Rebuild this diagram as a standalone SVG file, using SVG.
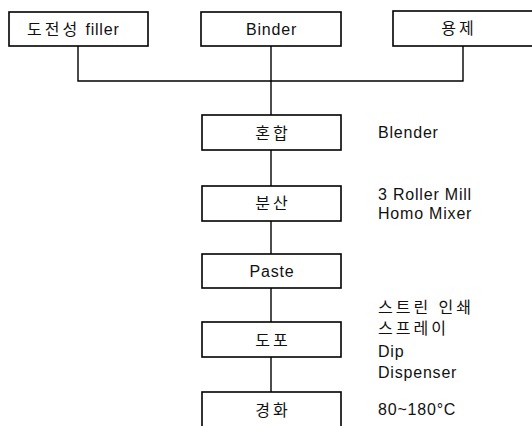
<svg xmlns="http://www.w3.org/2000/svg" width="532" height="426" viewBox="0 0 532 426">
<style>
.box{fill:#fff;stroke:#000;stroke-width:1.6}
.line{fill:none;stroke:#000;stroke-width:1.4}
text{font-family:"Liberation Sans","Noto Sans CJK KR",sans-serif;font-size:16px;fill:#111;letter-spacing:0.8px}
.c{text-anchor:middle}
.k{letter-spacing:3px}
</style>
<rect width="532" height="426" fill="#fff"/>
<g id="connectors">
<path class="line" d="M78,46 V81 H463 V46"/>
<path class="line" d="M271,46 V115"/>
<path class="line" d="M271,150 V186"/>
<path class="line" d="M271,221 V254"/>
<path class="line" d="M271,288 V322"/>
<path class="line" d="M271,357 V392"/>
</g>
<g id="filler"><rect class="box" x="9" y="12" width="139" height="34"/><text x="27" y="35"><tspan class="k">도전성</tspan><tspan> filler</tspan></text></g>
<g id="binder"><rect class="box" x="201" y="12" width="140" height="34"/><text class="c" x="271.5" y="35">Binder</text></g>
<g id="solvent"><rect class="box" x="393" y="11" width="150" height="35"/><text class="c k" x="459" y="34">용제</text></g>
<g id="mix"><rect class="box" x="202" y="115" width="139" height="35"/><text class="c k" x="273" y="139">혼합</text><text x="378" y="138">Blender</text></g>
<g id="disperse"><rect class="box" x="202" y="186" width="139" height="35"/><text class="c k" x="273" y="209">분산</text><text x="378" y="200">3 Roller Mill</text><text x="378" y="219">Homo Mixer</text></g>
<g id="paste"><rect class="box" x="202" y="254" width="139" height="34"/><text class="c" x="272" y="277">Paste</text></g>
<g id="coat"><rect class="box" x="202" y="322" width="139" height="35"/><text class="c k" x="273" y="346">도포</text><text class="k" x="378" y="313">스트린 인쇄</text><text class="k" x="378" y="334">스프레이</text><text x="378" y="357">Dip</text><text x="378" y="378">Dispenser</text></g>
<g id="cure"><rect class="box" x="202" y="392" width="139" height="40"/><text class="c k" x="273" y="416">경화</text><text x="378" y="415">80~180°C</text></g>
</svg>
